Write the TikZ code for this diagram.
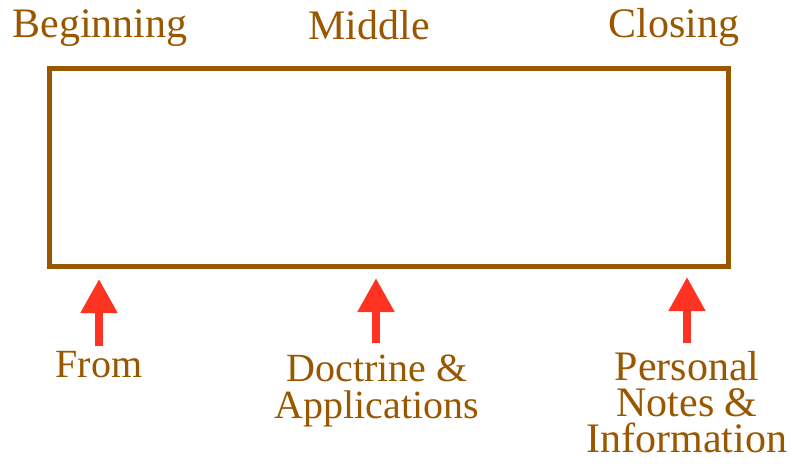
\documentclass[tikz,border=0pt]{standalone}
\usepackage{fontspec}
\setmainfont{Liberation Serif}
\usetikzlibrary{arrows.meta}
\definecolor{brn}{RGB}{153,87,0}
\definecolor{arr}{RGB}{255,51,34}
\begin{document}
\begin{tikzpicture}[x=1pt,y=-1pt,
  toplabel/.style={text=brn,font=\rmfamily\fontsize{42}{42}\selectfont,anchor=base,inner sep=0pt},
  botlabel/.style={text=brn,font=\rmfamily\fontsize{40}{37}\selectfont,anchor=base,inner sep=0pt,align=center},
  uparrow/.style={draw=arr,line width=8pt,-{Triangle[width=35pt,length=34pt]}}]
\useasboundingbox (0,0) rectangle (793,472);
\node[draw=brn,line width=5pt,minimum width=679pt,minimum height=197.5pt,inner sep=0pt,outer sep=0pt,anchor=north west] (box) at (49.5,68.5) {};
\node[toplabel] (beg) at (100,37) {Beginning};
\node[toplabel] (mid) at (369,39) {Middle};
\node[toplabel] (clo) at (674,37) {Closing};
\node[botlabel] (from) at (99,377) {From};
\node[botlabel] (doc) at (377,418) {Doctrine \&\\Applications};
\node[botlabel,font=\rmfamily\fontsize{42}{36}\selectfont] (per) at (687,452) {Personal\\Notes \&\\Information};
\coordinate (a1t) at (99,279);
\coordinate (a1b) at (99,346);
\coordinate (a2t) at (376,278);
\coordinate (a2b) at (376,343);
\coordinate (a3t) at (687,277);
\coordinate (a3b) at (687,343);
\draw[uparrow] (a1b) -- (a1t);
\draw[uparrow] (a2b) -- (a2t);
\draw[uparrow] (a3b) -- (a3t);
\end{tikzpicture}
\end{document}
